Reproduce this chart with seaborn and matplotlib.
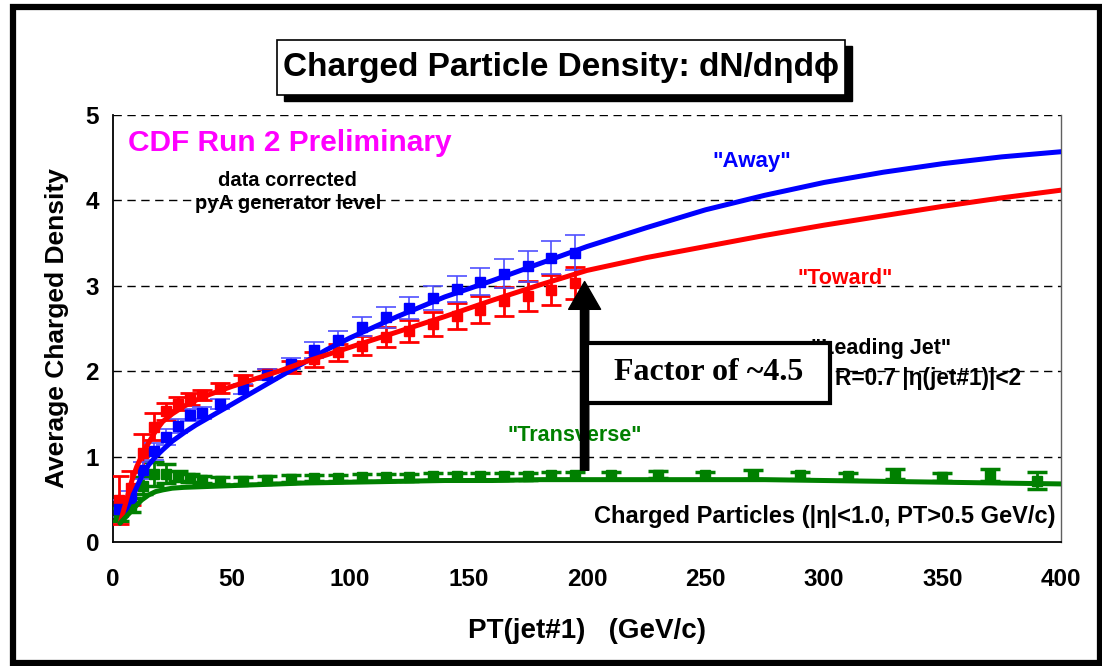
import matplotlib
matplotlib.use("Agg")
import matplotlib.pyplot as plt
import seaborn as sns
import pandas as pd
from matplotlib.patches import Rectangle

# CDF Run 2 Preliminary - charged particle density vs PT(jet#1)
pt_bins = [2.5, 7.5, 12.5, 17.5, 22.5, 27.5, 32.5, 37.5, 45, 55, 65, 75,
           85, 95, 105, 115, 125, 135, 145, 155, 165, 175, 185, 195]

toward_vals = [0.49, 0.63, 1.04, 1.35, 1.53, 1.62, 1.67, 1.72, 1.80, 1.90, 1.97, 2.05,
               2.14, 2.22, 2.30, 2.40, 2.47, 2.55, 2.65, 2.72, 2.82, 2.88, 2.95, 3.03]
toward_err = [0.28, 0.20, 0.22, 0.16, 0.10, 0.08, 0.07, 0.06, 0.06, 0.06, 0.06, 0.07,
              0.09, 0.10, 0.11, 0.12, 0.13, 0.14, 0.15, 0.16, 0.17, 0.18, 0.18, 0.19]

away_vals = [0.39, 0.52, 0.84, 1.06, 1.23, 1.36, 1.49, 1.51, 1.62, 1.79, 1.96, 2.09,
             2.25, 2.37, 2.52, 2.63, 2.74, 2.86, 2.96, 3.05, 3.14, 3.23, 3.33, 3.39]
away_err = [0.10, 0.08, 0.10, 0.10, 0.09, 0.08, 0.07, 0.07, 0.06, 0.06, 0.06, 0.07,
            0.09, 0.10, 0.11, 0.12, 0.13, 0.14, 0.15, 0.16, 0.17, 0.18, 0.19, 0.21]

trans_pt = pt_bins + [210, 230, 250, 270, 290, 310, 330, 350, 370, 390]
trans_vals = [0.32, 0.43, 0.66, 0.80, 0.80, 0.77, 0.75, 0.73, 0.72, 0.72, 0.73, 0.74,
              0.75, 0.75, 0.76, 0.76, 0.76, 0.77, 0.77, 0.77, 0.77, 0.77, 0.78, 0.78,
              0.78, 0.79, 0.78, 0.79, 0.78, 0.77, 0.80, 0.76, 0.79, 0.72]
trans_err = [0.08, 0.08, 0.10, 0.14, 0.11, 0.06, 0.05, 0.04, 0.04, 0.04, 0.04, 0.04,
             0.04, 0.04, 0.04, 0.04, 0.04, 0.04, 0.04, 0.04, 0.04, 0.04, 0.04, 0.04,
             0.04, 0.04, 0.04, 0.05, 0.04, 0.04, 0.06, 0.05, 0.07, 0.10]

# pyA generator level curves
curve_pt = [3, 4, 6, 8, 10, 12, 15, 18, 21, 25, 30, 35, 40, 50, 60, 70, 80, 90, 100,
            120, 140, 160, 180, 200, 225, 250, 275, 300, 325, 350, 375, 400]
away_curve = [0.22, 0.28, 0.40, 0.52, 0.64, 0.76, 0.90, 1.00, 1.08, 1.18, 1.28, 1.37, 1.45,
              1.61, 1.77, 1.93, 2.09, 2.25, 2.39, 2.64, 2.87, 3.06, 3.26, 3.46, 3.68,
              3.89, 4.06, 4.21, 4.33, 4.43, 4.51, 4.57]
toward_curve = [0.22, 0.32, 0.52, 0.72, 0.88, 1.00, 1.16, 1.30, 1.41, 1.50, 1.59, 1.66, 1.72,
                1.82, 1.91, 2.00, 2.10, 2.19, 2.28, 2.46, 2.64, 2.83, 3.01, 3.18, 3.33,
                3.46, 3.59, 3.71, 3.82, 3.93, 4.03, 4.12]
trans_curve = [0.22, 0.25, 0.31, 0.37, 0.43, 0.49, 0.55, 0.59, 0.61, 0.63, 0.64, 0.645, 0.65,
               0.66, 0.67, 0.68, 0.69, 0.695, 0.70, 0.71, 0.72, 0.72, 0.73, 0.73, 0.73,
               0.73, 0.73, 0.72, 0.71, 0.70, 0.69, 0.68]

BLUE, RED, GREEN, MAGENTA = "#0000FF", "#FF0000", "#008000", "#FF00FF"

sns.set_style("white")
plt.rcParams["font.family"] = ["Liberation Sans", "DejaVu Sans"]
plt.rcParams["font.weight"] = "bold"
for key in ["text.color", "axes.labelcolor", "xtick.color", "ytick.color"]:
    plt.rcParams[key] = "black"

df_curves = pd.DataFrame({"pt": curve_pt * 3,
                          "dens": away_curve + toward_curve + trans_curve,
                          "region": ["Away"] * len(curve_pt) + ["Toward"] * len(curve_pt)
                                    + ["Transverse"] * len(curve_pt)})

fig = plt.figure(figsize=(11.02, 6.66), dpi=100)
ax = fig.add_axes([0.1025, 0.1862, 0.8603, 0.6411])

# grid
for yv in [1, 2, 3, 4, 5]:
    ax.axhline(yv, color="black", lw=1.0, ls=(0, (6, 4)), zorder=0)

# data points
ax.errorbar(trans_pt, trans_vals, yerr=trans_err, fmt="s", color=GREEN, ms=7.5,
            capsize=7.5, elinewidth=2, capthick=2.5, zorder=3)
ax.errorbar(pt_bins, toward_vals, yerr=toward_err, fmt="s", color=RED, ms=7.5,
            capsize=7.5, elinewidth=2, capthick=2, zorder=3)
ax.errorbar(pt_bins, away_vals, yerr=away_err, fmt="s", color=BLUE, ecolor="#5050FF", ms=7.5,
            capsize=7.5, elinewidth=1.2, capthick=1.2, zorder=3)

# theory curves
sns.lineplot(data=df_curves, x="pt", y="dens", hue="region",
             palette={"Away": BLUE, "Toward": RED, "Transverse": GREEN},
             lw=3.6, legend=False, ax=ax, zorder=4)

ax.set_xlim(0, 400)
ax.set_ylim(0, 5)
ax.set_xticks(range(0, 401, 50))
ax.set_yticks(range(0, 6))
ax.tick_params(axis="x", direction="inout", length=12, width=1.2, labelsize=17.5, pad=13)
ax.tick_params(axis="y", direction="out", length=6, width=1.2, labelsize=17.5, pad=4)
for lab in ax.get_xticklabels() + ax.get_yticklabels():
    lab.set_fontweight("bold")
for s in ["left", "bottom"]:
    ax.spines[s].set_color("black")
    ax.spines[s].set_linewidth(1.3)
ax.spines["top"].set_visible(False)
ax.spines["right"].set_color("#606060")
ax.spines["right"].set_linewidth(1.0)

ax.set_xlabel("PT(jet#1)   (GeV/c)", fontsize=20, fontweight="bold", labelpad=19)
ax.set_ylabel("Average Charged Density", fontsize=19, fontweight="bold", labelpad=12)

# annotations
ax.text(6.3, 4.67, "CDF Run 2 Preliminary", color=MAGENTA, fontsize=21.5, fontweight="bold",
        ha="left", va="center")
ax.text(73.8, 4.23, "data corrected", fontsize=14.5, fontweight="bold", ha="center", va="center")
ax.text(73.8, 3.96, "pyA generator level", fontsize=14.5, fontweight="bold", ha="center", va="center")
ax.text(269.6, 4.45, '"Away"', color=BLUE, fontsize=16, fontweight="bold", ha="center", va="center")
ax.text(308.9, 3.09, '"Toward"', color=RED, fontsize=15.5, fontweight="bold", ha="center", va="center")
ax.text(195, 1.25, '"Transverse"', color=GREEN, fontsize=15.5, fontweight="bold",
        ha="center", va="center", zorder=2)
ax.text(324, 2.27, '"Leading Jet"', fontsize=15.5, fontweight="bold", ha="center", va="center", zorder=2)
ax.text(304.6, 1.92, "R=0.7 |η(jet#1)|<2", fontsize=16.3, fontweight="bold", ha="left", va="center")
ax.text(397.5, 0.30, "Charged Particles (|η|<1.0, PT>0.5 GeV/c)", fontsize=17, fontweight="bold",
        ha="right", va="center")

# arrow and factor box
ax.annotate("", xy=(199, 3.05), xytext=(199, 0.84),
            arrowprops=dict(facecolor="black", edgecolor="black", width=6, headwidth=23,
                            headlength=20), zorder=6)
ax.add_patch(Rectangle((199.9, 1.63), 102.6, 0.70, facecolor="white", edgecolor="black",
                       lw=3, zorder=7))
ax.text(251.2, 1.98, "Factor of ~4.5", family=["Liberation Serif", "DejaVu Serif"],
        fontsize=23, fontweight="bold", ha="center", va="center", zorder=8)

# title box with shadow
bx, by, bw, bh = 0.2514, 0.857, 0.5154, 0.083
fig.patches.append(Rectangle((bx + 0.006, by - 0.009), bw, bh, transform=fig.transFigure,
                             facecolor="black", edgecolor="black", zorder=1))
fig.patches.append(Rectangle((bx, by), bw, bh, transform=fig.transFigure,
                             facecolor="white", edgecolor="black", lw=1.2, zorder=2))
fig.text(bx + bw / 2, by + bh / 2, "Charged Particle Density: dN/dηdϕ", fontsize=24,
         fontweight="bold", ha="center", va="center", zorder=3)

# outer frame
fig.patches.append(Rectangle((0.0118, 0.004), 0.986, 0.985, transform=fig.transFigure,
                             fill=False, edgecolor="black", lw=4.5))

fig.savefig("out.png", dpi=100)
